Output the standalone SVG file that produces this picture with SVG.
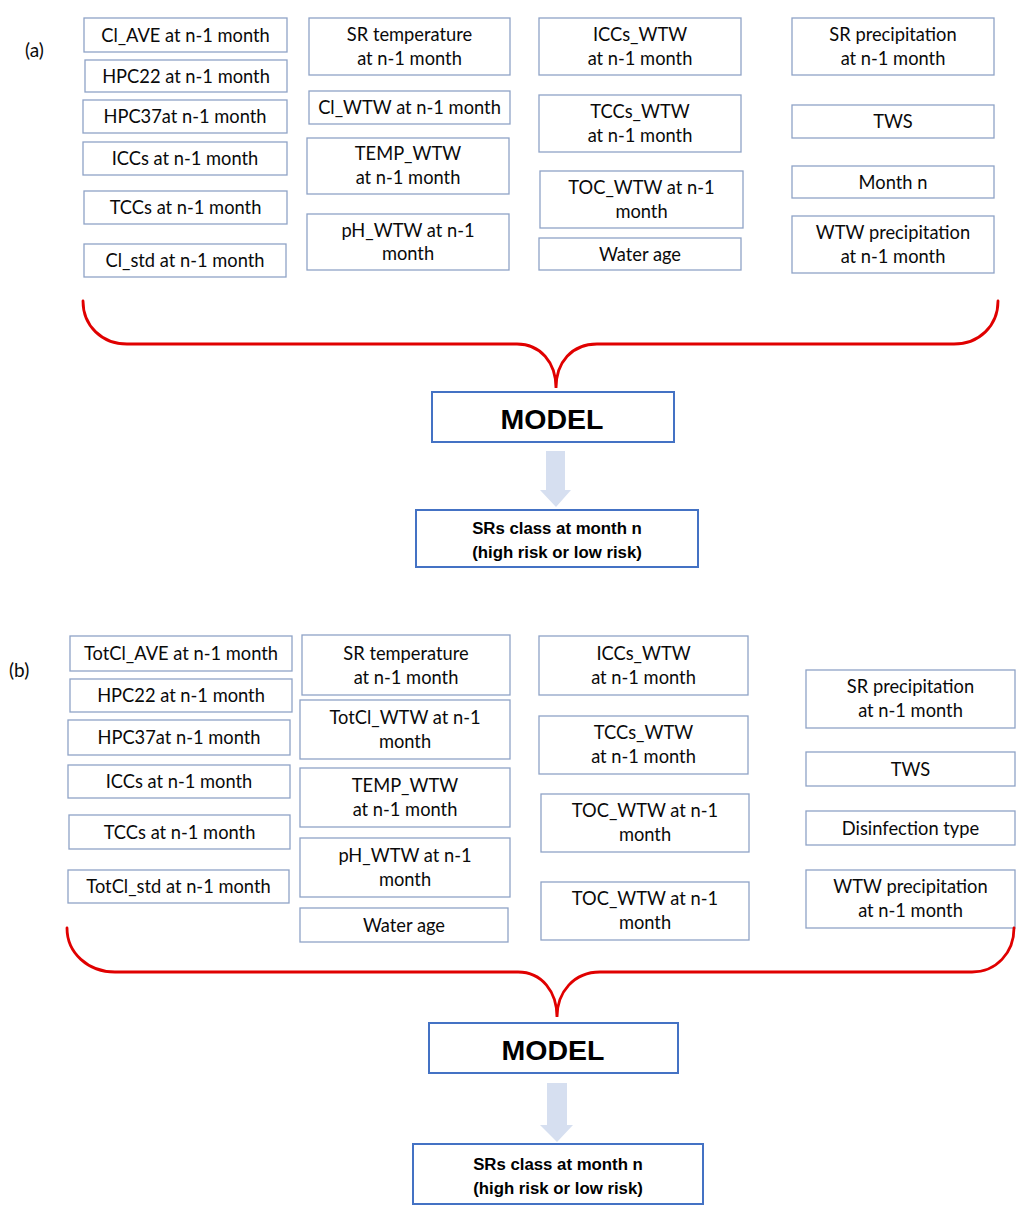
<svg xmlns="http://www.w3.org/2000/svg" width="1016" height="1213" viewBox="0 0 1016 1213">
  <style>
    .box { fill: #ffffff; stroke: #8fa3c7; stroke-width: 1.3; }
    .lbl { font-family: Lato, "Open Sans", "Liberation Sans", sans-serif; font-size: 18.3px; fill: #0a0a0a; text-anchor: middle; }
    .tag { font-family: Lato, "Open Sans", "Liberation Sans", sans-serif; font-size: 19px; fill: #0a0a0a; }
    .model { fill: #ffffff; stroke: #4472c4; stroke-width: 2; }
    .modeltxt { font-family: "Liberation Sans", Arial, sans-serif; font-weight: bold; font-size: 28.5px; fill: #000000; text-anchor: middle; }
    .out { fill: #ffffff; stroke: #4472c4; stroke-width: 2; }
    .outtxt { font-family: "Liberation Sans", Arial, sans-serif; font-weight: bold; font-size: 16.8px; fill: #000000; text-anchor: middle; }
    .brace { fill: none; stroke: #e00000; stroke-width: 2.8; stroke-linecap: round; }
    .flow { fill: #d6dff0; stroke: none; }
  </style>

  <!-- panel (a) -->
  <text class="tag" x="25" y="57">(a)</text>

  <g id="a-cl-ave"><rect class="box" x="84" y="18" width="203" height="34"/><text class="lbl" x="185.5" y="42">Cl_AVE at n-1 month</text></g>
  <g id="a-hpc22"><rect class="box" x="85" y="60" width="202" height="32"/><text class="lbl" x="186" y="82.5">HPC22 at n-1 month</text></g>
  <g id="a-hpc37"><rect class="box" x="83" y="100" width="204" height="33"/><text class="lbl" x="185" y="123">HPC37at n-1 month</text></g>
  <g id="a-iccs"><rect class="box" x="83" y="142" width="204" height="33"/><text class="lbl" x="185" y="165">ICCs at n-1 month</text></g>
  <g id="a-tccs"><rect class="box" x="84" y="191" width="203" height="33"/><text class="lbl" x="185.5" y="214">TCCs at n-1 month</text></g>
  <g id="a-cl-std"><rect class="box" x="84" y="244" width="202" height="33"/><text class="lbl" x="185" y="267">Cl_std at n-1 month</text></g>

  <g id="a-sr-temp"><rect class="box" x="309" y="18" width="201" height="57"/><text class="lbl" x="409.5" y="40.5">SR temperature</text><text class="lbl" x="409.5" y="64.5">at n-1 month</text></g>
  <g id="a-cl-wtw"><rect class="box" x="309" y="91" width="201" height="33"/><text class="lbl" x="409.5" y="114">Cl_WTW at n-1 month</text></g>
  <g id="a-temp-wtw"><rect class="box" x="307" y="138" width="202" height="56"/><text class="lbl" x="408" y="160">TEMP_WTW</text><text class="lbl" x="408" y="184">at n-1 month</text></g>
  <g id="a-ph-wtw"><rect class="box" x="307" y="214" width="202" height="56"/><text class="lbl" x="408" y="236.5">pH_WTW at n-1</text><text class="lbl" x="408" y="260">month</text></g>

  <g id="a-iccs-wtw"><rect class="box" x="539" y="18" width="202" height="57"/><text class="lbl" x="640" y="40.5">ICCs_WTW</text><text class="lbl" x="640" y="64.5">at n-1 month</text></g>
  <g id="a-tccs-wtw"><rect class="box" x="539" y="95" width="202" height="57"/><text class="lbl" x="640" y="117.5">TCCs_WTW</text><text class="lbl" x="640" y="141.5">at n-1 month</text></g>
  <g id="a-toc-wtw"><rect class="box" x="540" y="171" width="203" height="57"/><text class="lbl" x="641.5" y="193.5">TOC_WTW at n-1</text><text class="lbl" x="641.5" y="217.5">month</text></g>
  <g id="a-water-age"><rect class="box" x="539" y="238" width="202" height="32"/><text class="lbl" x="640" y="260.5">Water age</text></g>

  <g id="a-sr-precip"><rect class="box" x="792" y="18" width="202" height="57"/><text class="lbl" x="893" y="40.5">SR precipitation</text><text class="lbl" x="893" y="64.5">at n-1 month</text></g>
  <g id="a-tws"><rect class="box" x="792" y="105" width="202" height="33"/><text class="lbl" x="893" y="128">TWS</text></g>
  <g id="a-month"><rect class="box" x="792" y="166" width="202" height="32"/><text class="lbl" x="893" y="188.5">Month n</text></g>
  <g id="a-wtw-precip"><rect class="box" x="792" y="216" width="202" height="57"/><text class="lbl" x="893" y="238.5">WTW precipitation</text><text class="lbl" x="893" y="262.5">at n-1 month</text></g>

  <g id="a-model"><rect class="model" x="432" y="392" width="242" height="50"/><text class="modeltxt" x="552" y="428.5">MODEL</text></g>
  <g id="a-output"><rect class="out" x="416" y="510" width="282" height="57"/><text class="outtxt" x="557" y="534">SRs class at month n</text><text class="outtxt" x="557" y="557.5">(high risk or low risk)</text></g>

  <!-- panel (b) -->
  <text class="tag" x="9" y="677">(b)</text>

  <g id="b-totcl-ave"><rect class="box" x="70" y="636" width="222" height="35"/><text class="lbl" x="181" y="660">TotCl_AVE at n-1 month</text></g>
  <g id="b-hpc22"><rect class="box" x="70" y="679" width="222" height="33"/><text class="lbl" x="181" y="702">HPC22 at n-1 month</text></g>
  <g id="b-hpc37"><rect class="box" x="68" y="720" width="222" height="35"/><text class="lbl" x="179" y="744">HPC37at n-1 month</text></g>
  <g id="b-iccs"><rect class="box" x="68" y="765" width="222" height="33"/><text class="lbl" x="179" y="788">ICCs at n-1 month</text></g>
  <g id="b-tccs"><rect class="box" x="69" y="815" width="221" height="34"/><text class="lbl" x="179.5" y="838.5">TCCs at n-1 month</text></g>
  <g id="b-totcl-std"><rect class="box" x="68" y="870" width="221" height="33"/><text class="lbl" x="178.5" y="893">TotCl_std at n-1 month</text></g>

  <g id="b-sr-temp"><rect class="box" x="302" y="635" width="208" height="60"/><text class="lbl" x="406" y="659.5">SR temperature</text><text class="lbl" x="406" y="683.5">at n-1 month</text></g>
  <g id="b-totcl-wtw"><rect class="box" x="300" y="700" width="210" height="59"/><text class="lbl" x="405" y="723.5">TotCl_WTW at n-1</text><text class="lbl" x="405" y="747.5">month</text></g>
  <g id="b-temp-wtw"><rect class="box" x="300" y="768" width="210" height="59"/><text class="lbl" x="405" y="791.5">TEMP_WTW</text><text class="lbl" x="405" y="815.5">at n-1 month</text></g>
  <g id="b-ph-wtw"><rect class="box" x="300" y="838" width="210" height="59"/><text class="lbl" x="405" y="861.5">pH_WTW at n-1</text><text class="lbl" x="405" y="885.5">month</text></g>
  <g id="b-water-age"><rect class="box" x="300" y="908" width="208" height="34"/><text class="lbl" x="404" y="931.5">Water age</text></g>

  <g id="b-iccs-wtw"><rect class="box" x="539" y="636" width="209" height="59"/><text class="lbl" x="643.5" y="659.5">ICCs_WTW</text><text class="lbl" x="643.5" y="683.5">at n-1 month</text></g>
  <g id="b-tccs-wtw"><rect class="box" x="539" y="716" width="209" height="58"/><text class="lbl" x="643.5" y="739">TCCs_WTW</text><text class="lbl" x="643.5" y="763">at n-1 month</text></g>
  <g id="b-toc-wtw-1"><rect class="box" x="541" y="794" width="208" height="58"/><text class="lbl" x="645" y="817">TOC_WTW at n-1</text><text class="lbl" x="645" y="841">month</text></g>
  <g id="b-toc-wtw-2"><rect class="box" x="541" y="882" width="208" height="58"/><text class="lbl" x="645" y="905">TOC_WTW at n-1</text><text class="lbl" x="645" y="929">month</text></g>

  <g id="b-sr-precip"><rect class="box" x="806" y="670" width="209" height="58"/><text class="lbl" x="910.5" y="693">SR precipitation</text><text class="lbl" x="910.5" y="717">at n-1 month</text></g>
  <g id="b-tws"><rect class="box" x="806" y="752" width="209" height="34"/><text class="lbl" x="910.5" y="775.5">TWS</text></g>
  <g id="b-disinfection"><rect class="box" x="806" y="811" width="209" height="34"/><text class="lbl" x="910.5" y="834.5">Disinfection type</text></g>
  <g id="b-wtw-precip"><rect class="box" x="806" y="870" width="209" height="58"/><text class="lbl" x="910.5" y="893">WTW precipitation</text><text class="lbl" x="910.5" y="917">at n-1 month</text></g>

  <g id="b-model"><rect class="model" x="429" y="1023" width="249" height="50"/><text class="modeltxt" x="553" y="1060">MODEL</text></g>
  <g id="b-output"><rect class="out" x="413" y="1144" width="290" height="60"/><text class="outtxt" x="558" y="1169.5">SRs class at month n</text><text class="outtxt" x="558" y="1193.5">(high risk or low risk)</text></g>

  <!-- connectors: curly braces gathering inputs, block arrows to outputs -->
  <g id="connectors">
    <path class="brace" d="M83,301 C83,326 102,344 127,344 L517,344 C540,344 556,362 556,388 C556,362 572,344 597,344 L954,344 C979,344 998,326 998,301"/>
    <path class="flow" d="M546,451 L565,451 L565,490 L571,490 L556,507 L540,490 L546,490 Z"/>
    <path class="brace" d="M67,928 C67,953 88,972 115,972 L518,972 C542,972 557,992 557,1017 C557,992 574,972 600,972 L972,972 C996,972 1014,953 1014,928"/>
    <path class="flow" d="M547,1083 L567,1083 L567,1125 L573,1125 L557,1142 L540,1125 L547,1125 Z"/>
  </g>
</svg>
